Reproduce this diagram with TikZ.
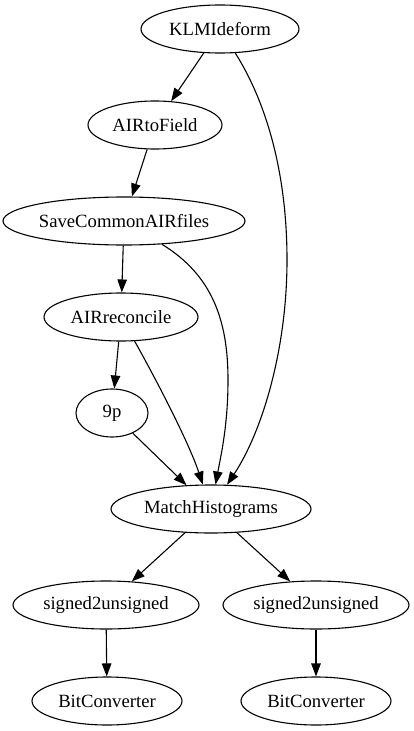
\documentclass[tikz,border=0pt]{standalone}
\usepackage{fontspec}
\setmainfont{Liberation Serif}
\usetikzlibrary{shapes.geometric,arrows.meta}
\begin{document}
\begin{tikzpicture}[x=1bp,y=-1bp,
  nd/.style={draw,ellipse,inner sep=0pt,minimum height=48bp,line width=1.1bp,
    font=\fontsize{18.67bp}{22bp}\selectfont},
  edge/.style={draw,line width=1.1bp,-{Triangle[length=13bp,width=9.5bp]}}]
\useasboundingbox (0,0) rectangle (413,731);
\node[nd,minimum width=158bp] (k) at (220,29) {KLMIdeform};
\node[nd,minimum width=134bp] (a) at (155,125) {AIRtoField};
\node[nd,minimum width=242bp] (s) at (124,221) {SaveCommonAIRfiles};
\node[nd,minimum width=154bp] (r) at (121,317) {AIRreconcile};
\node[nd,minimum width=72bp] (p) at (112,413) {9p};
\node[nd,minimum width=200bp] (m) at (211,509) {MatchHistograms};
\node[nd,minimum width=186bp] (u1) at (106,605) {signed2unsigned};
\node[nd,minimum width=186bp] (u2) at (316,605) {signed2unsigned};
\node[nd,minimum width=150bp] (b1) at (107,701) {BitConverter};
\node[nd,minimum width=150bp] (b2) at (316,701) {BitConverter};
\path[edge] (k) -- (a);
\path[edge] (k) .. controls (265,100) and (287,170) .. (287,260) .. controls (287,350) and (262,432) .. (m);
\path[edge] (a) -- (s);
\path[edge] (s) -- (r);
\path[edge] (s) .. controls (212,275) and (228,320) .. (228,380) .. controls (228,425) and (221,455) .. (m);
\path[edge] (r) -- (p);
\path[edge] (r) .. controls (152,372) and (188,440) .. (m);
\path[edge] (p) -- (m);
\path[edge] (m) -- (u1);
\path[edge] (m) -- (u2);
\path[edge] (u1) -- (b1);
\path[edge] (u2) -- (b2);
\end{tikzpicture}
\end{document}
